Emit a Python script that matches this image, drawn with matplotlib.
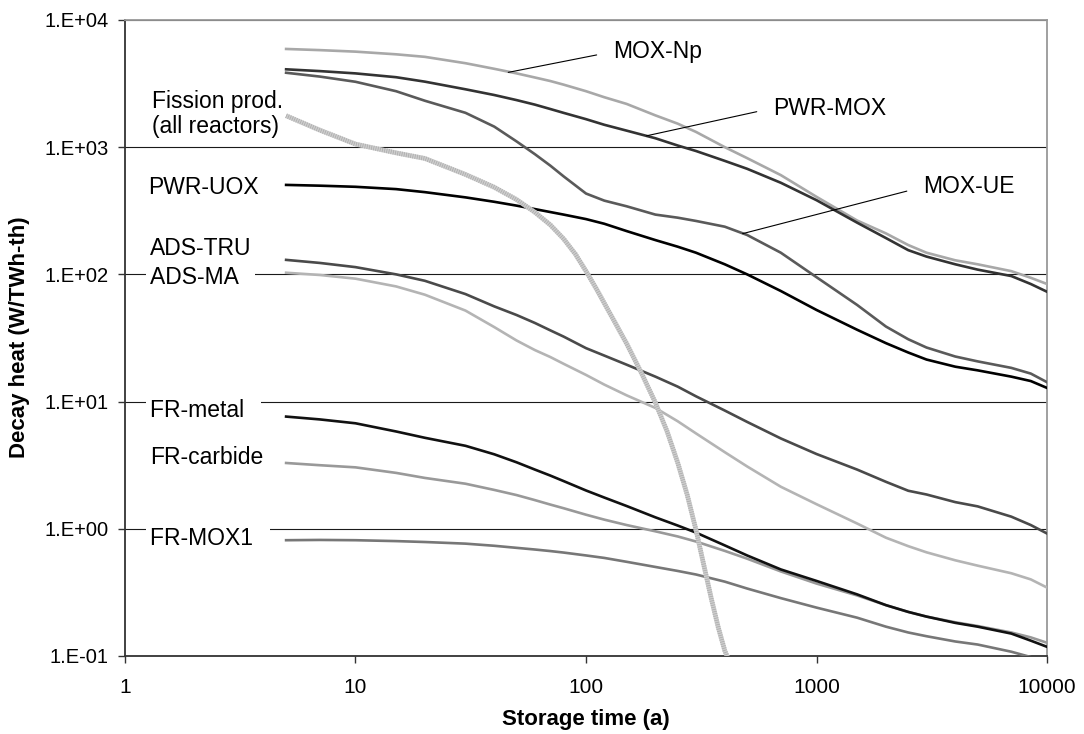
#!/usr/bin/env python3
"""Decay heat of spent fuel / waste streams versus storage time (log-log)."""

import numpy as np
import matplotlib
matplotlib.use("Agg")
import matplotlib.pyplot as plt
from matplotlib.ticker import FixedLocator, FuncFormatter, NullLocator

plt.rcParams["font.family"] = ["Liberation Sans", "DejaVu Sans"]
plt.rcParams["lines.scale_dashes"] = False

# storage time grid (a), shared by the long-lived curves
YEARS = [5, 7, 10, 15, 20, 30, 40, 50, 60, 70, 80, 100, 120, 150, 200, 250,
         300, 400, 500, 700, 1000, 1500, 2000, 2500, 3000, 4000, 5000, 7000,
         8500, 10000]

# decay heat (W/TWh-th)
MOX_NP = [5916, 5794, 5636, 5370, 5129, 4571, 4130, 3802, 3530, 3311, 3100,
          2754, 2470, 2188, 1778, 1530, 1318, 1000, 820, 603, 407, 265, 210,
          170, 148, 129, 120, 106, 94, 84]
PWR_MOX = [4093, 3963, 3802, 3548, 3273, 2851, 2570, 2344, 2160, 1995, 1860,
           1660, 1500, 1349, 1175, 1030, 933, 780, 676, 525, 383, 255, 193,
           155, 138, 120, 109, 97, 84, 73]
MOX_UE = [3846, 3589, 3266, 2754, 2317, 1862, 1450, 1109, 881, 716, 589,
          432, 380, 343, 295, 279, 263, 237, 204, 148, 95, 57.5, 38.9, 30.9,
          26.6, 22.6, 20.7, 18.4, 16.6, 14.2]
PWR_UOX = [505, 498, 488, 468, 443, 403, 372, 347, 326, 309, 295, 272, 250,
           219, 186, 165, 148, 120, 100, 74, 52.5, 36.7, 28.8, 24.3, 21.4,
           18.8, 17.6, 15.7, 14.5, 12.8]
ADS_TRU = [130, 123, 114, 100, 89, 70, 56, 47.9, 41.5, 36.3, 32.4, 26.3, 23,
           19.5, 15.7, 13.1, 11.0, 8.5, 6.92, 5.13, 3.87, 2.92, 2.34, 1.99,
           1.86, 1.62, 1.50, 1.245, 1.07, 0.918]
ADS_MA = [103, 98.9, 92.5, 80.4, 69.2, 51.9, 38.5, 30.2, 25.4, 22.4, 19.8,
          16.2, 13.6, 11.2, 8.91, 7.0, 5.62, 4.0, 3.09, 2.14, 1.56, 1.10,
          0.851, 0.73, 0.653, 0.565, 0.513, 0.447, 0.40, 0.345]
FR_METAL = [7.62, 7.24, 6.75, 5.82, 5.19, 4.49, 3.85, 3.33, 2.92, 2.62, 2.37,
            2.0, 1.76, 1.51, 1.23, 1.06, 0.933, 0.74, 0.617, 0.479, 0.389,
            0.305, 0.251, 0.222, 0.204, 0.182, 0.170, 0.150, 0.132, 0.118]
FR_CARBIDE = [3.29, 3.16, 3.04, 2.75, 2.51, 2.26, 2.02, 1.84, 1.68, 1.55,
              1.45, 1.29, 1.18, 1.07, 0.955, 0.87, 0.794, 0.67, 0.582, 0.462,
              0.371, 0.299, 0.251, 0.222, 0.204, 0.184, 0.172, 0.153, 0.140,
              0.127]
FR_MOX1 = [0.813, 0.817, 0.813, 0.80, 0.787, 0.764, 0.735, 0.708, 0.687,
           0.668, 0.650, 0.617, 0.590, 0.55, 0.501, 0.466, 0.437, 0.384,
           0.339, 0.285, 0.240, 0.20, 0.170, 0.153, 0.143, 0.130, 0.123,
           0.108, 0.098, 0.089]

# fission products drop fast, so they get their own time grid
FP_YEARS = [5, 7, 10, 15, 20, 30, 40, 50, 60, 70, 80, 90, 100, 110, 125, 150,
            175, 200, 225, 250, 275, 300, 325, 350, 375, 400, 420]
FISSION = [1766, 1361, 1057, 902, 815, 610, 484, 387, 308, 245, 190, 144,
           106, 79, 52, 28.6, 16.4, 9.8, 5.8, 3.3, 1.84, 0.98, 0.51, 0.28,
           0.167, 0.11, 0.089]

X_TICKS = [1, 10, 100, 1000, 10000]
Y_TICKS = [0.1, 1, 10, 100, 1000, 10000]

# (values, colour) for the plain curves, drawn bottom to top
CURVES = [
    (MOX_NP, "#a8a8a8"),
    (ADS_MA, "#b4b4b4"),
    (FR_CARBIDE, "#999999"),
    (FR_MOX1, "#777777"),
    (MOX_UE, "#5a5a5a"),
    (ADS_TRU, "#4a4a4a"),
    (PWR_MOX, "#333333"),
    (FR_METAL, "#111111"),
    (PWR_UOX, "#000000"),
]


def main() -> None:
    fig = plt.figure(figsize=(10.84, 7.34), dpi=100)
    ax = fig.add_axes([0.1153, 0.1063, 0.8506, 0.8665])

    ax.set_xscale("log")
    ax.set_yscale("log")
    ax.set_xlim(1, 10000)
    ax.set_ylim(0.1, 10000)

    for ys, color in CURVES:
        ax.plot(YEARS, ys, color=color, lw=1.9, solid_joinstyle="round",
                zorder=3)

    # hatched grey band for the fission products
    ax.plot(FP_YEARS, FISSION, color="#cdcdcd", lw=3.4, zorder=4,
            solid_capstyle="butt", solid_joinstyle="round")
    ax.plot(FP_YEARS, FISSION, color="#a9a9a9", lw=3.4, zorder=4,
            dashes=(0.5, 1.1))

    # axes look
    ax.xaxis.set_major_locator(FixedLocator(X_TICKS))
    ax.xaxis.set_minor_locator(NullLocator())
    ax.yaxis.set_major_locator(FixedLocator(Y_TICKS))
    ax.yaxis.set_minor_locator(NullLocator())
    ax.xaxis.set_major_formatter(FuncFormatter(lambda v, p: f"{v:.0f}"))
    ax.yaxis.set_major_formatter(
        FuncFormatter(lambda v, p: f"1.E{int(round(np.log10(v))):+03d}"))

    ax.yaxis.grid(True, color="#1a1a1a", lw=0.8)
    ax.set_axisbelow(True)

    for side in ("left", "bottom"):
        ax.spines[side].set_color("#333333")
        ax.spines[side].set_linewidth(1.3)
    for side in ("top", "right"):
        ax.spines[side].set_color("#999999")
        ax.spines[side].set_linewidth(1.3)

    ax.tick_params(axis="both", direction="out", length=5, width=1.0,
                   color="#333333")
    ax.tick_params(axis="y", labelsize=14.5, pad=7)
    ax.tick_params(axis="x", labelsize=15, pad=11)

    # curve labels on the left
    box = dict(facecolor="white", edgecolor="none", pad=3)
    left_labels = [
        ("Fission prod.\n(all reactors)", 1.306, 1820, None),
        ("PWR-UOX", 1.258, 479, None),
        ("ADS-TRU", 1.284, 160, None),
        ("ADS-MA  ", 1.284, 94.6, box),
        ("FR-metal  ", 1.29, 8.49, box),
        ("FR-carbide", 1.29, 3.62, None),
        ("FR-MOX1  ", 1.29, 0.834, box),
    ]
    for text, x, y, bb in left_labels:
        ax.text(x, y, text, fontsize=16.5, ha="left", va="center",
                linespacing=1.15, bbox=bb, zorder=5)

    # curve labels with leader lines on the right
    leader = dict(arrowstyle="-", color="black", lw=0.8, shrinkA=10,
                  shrinkB=0, relpos=(0, 0.5))
    right_labels = [
        ("MOX-Np", (46, 3873), (131, 5629)),
        ("PWR-MOX", (183, 1228), (648, 2028)),
        ("MOX-UE", (478, 209), (2898, 487)),
    ]
    for text, xy, xytext in right_labels:
        ax.annotate(text, xy=xy, xytext=xytext, fontsize=16.5, ha="left",
                    va="center", arrowprops=leader, zorder=5)

    fig.text(20 / 1084, 1 - 337 / 734, "Decay heat (W/TWh-th)", rotation=90,
             ha="center", va="center", fontsize=16, fontweight="bold")
    fig.text(586 / 1084, 1 - 720 / 734, "Storage time (a)", ha="center",
             va="center", fontsize=16, fontweight="bold")

    fig.savefig("out.png", dpi=100, facecolor="white")
    plt.close(fig)


if __name__ == "__main__":
    main()
